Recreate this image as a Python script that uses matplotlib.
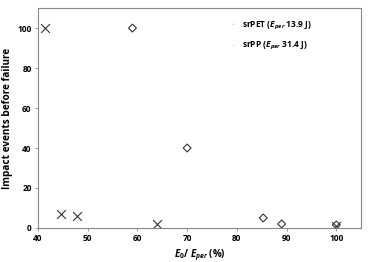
import matplotlib
matplotlib.use("Agg")
import matplotlib.pyplot as plt

plt.rcParams["font.family"] = ["Open Sans", "DejaVu Sans"]
plt.rcParams["font.weight"] = "bold"
plt.rcParams["axes.labelweight"] = "bold"
plt.rcParams["mathtext.fontset"] = "custom"
plt.rcParams["mathtext.rm"] = "Open Sans:bold"
plt.rcParams["mathtext.it"] = "Open Sans:bold:italic"
plt.rcParams["mathtext.bf"] = "Open Sans:bold"

# srPET (diamonds)
pet_x = [59, 70, 85.3, 89, 100]
pet_y = [100, 40, 5, 2, 1.5]
# srPP (crosses)
pp_x = [41.4, 44.6, 47.8, 63.9, 100]
pp_y = [100, 7, 6, 2, 1]

fig = plt.figure(figsize=(3.78, 2.62), dpi=100)
ax = fig.add_axes([0.1005, 0.13, 0.855, 0.839])

ax.scatter(pet_x, pet_y, marker="D", s=16, facecolors="none", edgecolors="#333333",
           linewidths=0.8, label=r"srPET ($\it{E}_{per}$ 13.9 J)")
ax.scatter(pp_x, pp_y, marker="x", s=40, color="#333333", linewidths=0.8,
           label=r"srPP ($\it{E}_{per}$ 31.4 J)")

ax.set_xlim(40, 105)
ax.set_ylim(0, 110)
ax.set_xticks(range(40, 101, 10))
ax.set_yticks(range(0, 101, 20))
ax.tick_params(labelsize=6, length=2.5, width=0.6, color="#888888", pad=2)
for s in ax.spines.values():
    s.set_color("#888888")
    s.set_linewidth(0.8)

ax.set_xlabel(r"$\it{E}_{0}$/ $\it{E}_{per}$ $\mathrm{(\%)}$", fontsize=7, labelpad=3)
ax.set_ylabel("Impact events before failure", fontsize=7.2, labelpad=3)

leg = ax.legend(loc="upper left", bbox_to_anchor=(0.575, 0.985), frameon=False,
                fontsize=6, markerscale=0.01, handlelength=0.5, handletextpad=0.8,
                labelspacing=1.0)

fig.savefig("out.png", dpi=100)
